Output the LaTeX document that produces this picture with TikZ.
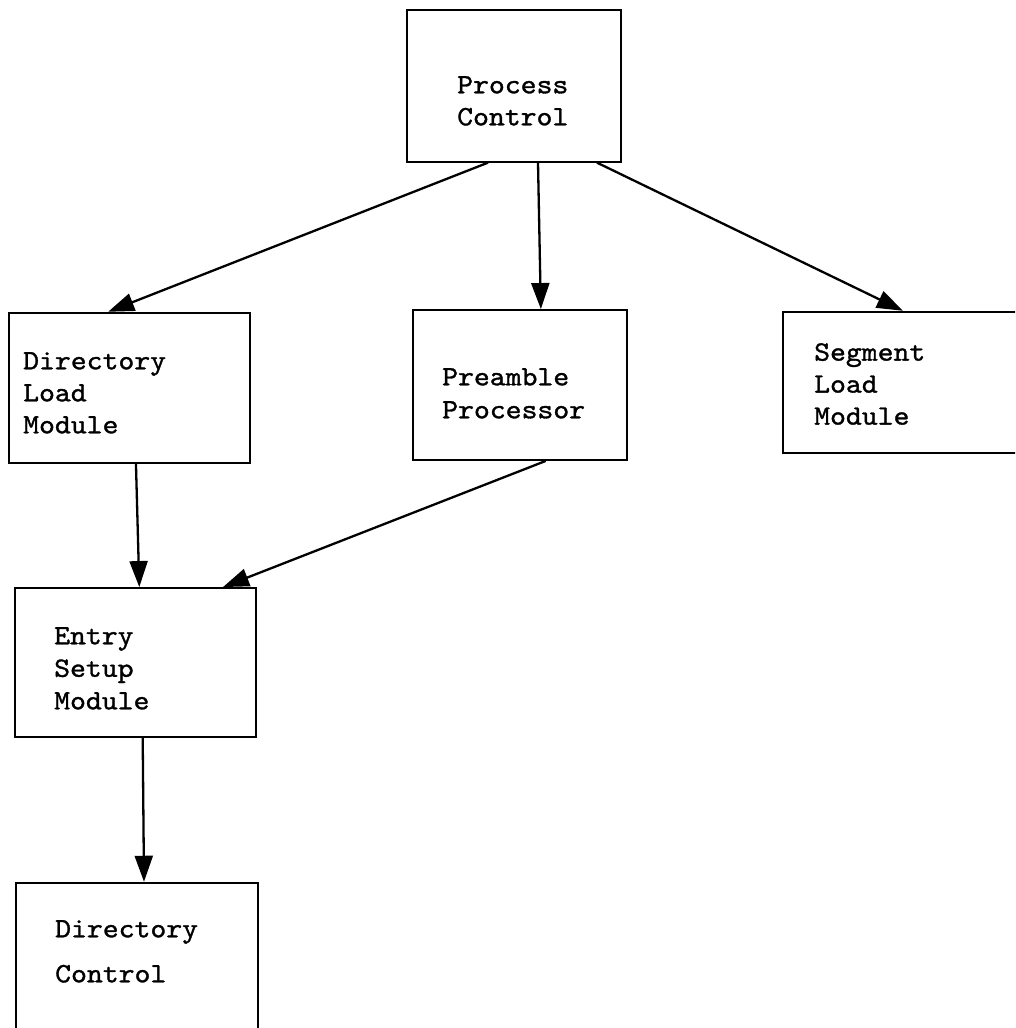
\documentclass[tikz,border=0pt]{standalone}
\usepackage{fontspec}
\newfontfamily\typew{lmmono10-regular.otf}[FakeStretch=1.08,FakeBold=1.2]
\usetikzlibrary{arrows.meta}
\begin{document}
\begin{tikzpicture}[x=1pt,y=-1pt,
  box/.style={draw=black,line width=1.9pt,minimum width=#1,inner sep=0pt},
  lbl/.style={anchor=north west,inner sep=0pt,align=left,
    font=\typew\fontsize{28}{32}\selectfont,text=black},
  conn/.style={line width=2.3pt,-{Triangle[length=26pt,width=18pt]}}]
\useasboundingbox (0,0) rectangle (1015,1028);
\begin{scope}
\clip (0,0) rectangle (1015,1028);
\node[box=214pt,minimum height=151.7pt] (pc) at (514,85.85) {};
\node[box=240.7pt,minimum height=150pt] (dl) at (129.65,387.7) {};
\node[box=214.3pt,minimum height=150pt] (pp) at (519.85,385) {};
\node[box=247.3pt,minimum height=141.6pt] (sl) at (906.35,382.5) {};
\node[box=241pt,minimum height=149pt] (es) at (135.5,662.5) {};
\node[box=242pt,minimum height=157.3pt] (dc) at (137,961.35) {};
\end{scope}
\node[lbl] (pct) at (457,76) {Process\\Control};
\node[lbl] (dlt) at (23,352) {Directory\\Load\\Module};
\node[lbl,font=\typew\fontsize{28}{33}\selectfont] (ppt) at (442,368) {Preamble\\Processor};
\node[lbl] (slt) at (814,343) {Segment\\Load\\Module};
\node[lbl,font=\typew\fontsize{28}{32.5}\selectfont] (est) at (54,627) {Entry\\Setup\\Module};
\node[lbl,font=\typew\fontsize{28}{45}\selectfont] (dct) at (55,920) {Directory\\Control};
\draw[conn] ([xshift=-26pt]pc.south) -- ([xshift=-21.5pt]dl.north);
\draw[conn] ([xshift=24pt]pc.south) -- ([xshift=21pt]pp.north);
\draw[conn] ([xshift=83pt]pc.south) -- ([xshift=-3.5pt]sl.north);
\draw[conn] ([xshift=6.3pt]dl.south) -- ([xshift=3.8pt]es.north);
\draw[conn] ([xshift=25.8pt]pp.south) -- ([xshift=87.5pt]es.north);
\draw[conn] ([xshift=7.2pt]es.south) -- ([xshift=7pt]dc.north);
\end{tikzpicture}
\end{document}
